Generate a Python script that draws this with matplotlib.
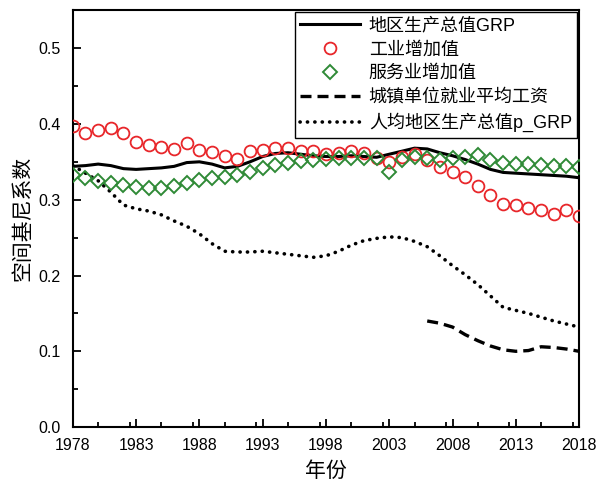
import matplotlib
matplotlib.use('Agg')
import matplotlib.pyplot as plt
from matplotlib.ticker import MultipleLocator

plt.rcParams['font.family'] = ['Liberation Sans', 'Noto Sans CJK SC']

# 数据
years = list(range(1978, 2019))

grp = [0.344, 0.345, 0.347, 0.345, 0.341, 0.340, 0.341, 0.342, 0.344, 0.349,
       0.350, 0.347, 0.342, 0.344, 0.350, 0.357, 0.361, 0.362, 0.360, 0.358,
       0.357, 0.357, 0.358, 0.357, 0.356, 0.360, 0.364, 0.368, 0.367, 0.362,
       0.358, 0.353, 0.347, 0.340, 0.336, 0.335, 0.334, 0.333, 0.332, 0.331,
       0.329]

industry = [0.397, 0.388, 0.392, 0.395, 0.388, 0.376, 0.372, 0.370, 0.367, 0.375,
            0.366, 0.363, 0.358, 0.354, 0.364, 0.366, 0.368, 0.368, 0.364, 0.364,
            0.360, 0.361, 0.364, 0.362, 0.355, 0.350, 0.356, 0.360, 0.352, 0.343,
            0.336, 0.330, 0.318, 0.306, 0.294, 0.293, 0.289, 0.286, 0.281, 0.287,
            0.279]

service = [0.333, 0.328, 0.325, 0.322, 0.319, 0.317, 0.315, 0.316, 0.318, 0.322,
           0.326, 0.328, 0.330, 0.333, 0.337, 0.342, 0.346, 0.349, 0.351, 0.353,
           0.354, 0.355, 0.355, 0.355, 0.355, 0.337, 0.353, 0.357, 0.355, 0.352,
           0.355, 0.357, 0.359, 0.352, 0.348, 0.347, 0.347, 0.346, 0.345, 0.345,
           0.343]

wage_years = list(range(2006, 2019))
wage = [0.140, 0.137, 0.132, 0.122, 0.114, 0.107, 0.102, 0.100, 0.101, 0.106,
        0.105, 0.103, 0.100]

p_grp = [0.345, 0.335, 0.325, 0.310, 0.293, 0.288, 0.285, 0.280, 0.272, 0.265,
         0.255, 0.242, 0.232, 0.231, 0.231, 0.232, 0.230, 0.228, 0.226, 0.224,
         0.226, 0.232, 0.240, 0.246, 0.249, 0.251, 0.250, 0.245, 0.238, 0.226,
         0.213, 0.201, 0.188, 0.173, 0.158, 0.154, 0.150, 0.145, 0.140, 0.136,
         0.132]

fig = plt.figure(figsize=(5.97, 4.87), dpi=100)
ax = fig.add_axes([0.122, 0.123, 0.848, 0.856])

ax.plot(years, grp, color='black', lw=2.2, label='地区生产总值GRP', zorder=3)
ax.plot(years, industry, 'o', ms=8.5, mfc='none', mec='#e8262a', mew=1.3,
        label='工业增加值', zorder=4)
ax.plot(years, service, 'D', ms=7, mfc='none', mec='#2f8a36', mew=1.4,
        label='服务业增加值', zorder=5)
ax.plot(wage_years, wage, color='black', lw=2.4, ls=(0, (3.3, 1.8)),
        label='城镇单位就业平均工资')
ax.plot(years, p_grp, color='black', lw=2.6, ls=(0, (0.05, 2.0)),
        dash_capstyle='round', label='人均地区生产总值p_GRP')

# 坐标轴
ax.set_xlim(1978, 2018)
ax.set_ylim(0, 0.55)
ax.set_xticks(range(1978, 2019, 5))
ax.xaxis.set_minor_locator(MultipleLocator(2.5))
ax.set_yticks([0.0, 0.1, 0.2, 0.3, 0.4, 0.5])
ax.yaxis.set_minor_locator(MultipleLocator(0.05))
ax.tick_params(which='both', direction='in', top=False, right=False,
               labelsize=11.5, width=1.3)
ax.tick_params(which='major', length=6)
ax.tick_params(which='minor', length=3.5)
ax.tick_params(axis='x', pad=8)
ax.tick_params(axis='y', pad=9)
for s in ax.spines.values():
    s.set_linewidth(1.5)

ax.set_xlabel('年份', fontsize=15, labelpad=6)
ax.set_ylabel('空间基尼系数', fontsize=15, labelpad=4)

# 图例
leg = ax.legend(loc='upper right', bbox_to_anchor=(1.0, 1.0), borderaxespad=0.1,
                fontsize=13, numpoints=1, handlelength=3.3, handletextpad=0.5,
                labelspacing=0.38, fancybox=False, edgecolor='black',
                framealpha=1, borderpad=0.3)
leg.get_frame().set_linewidth(1.0)

fig.savefig('out.png', dpi=100)
